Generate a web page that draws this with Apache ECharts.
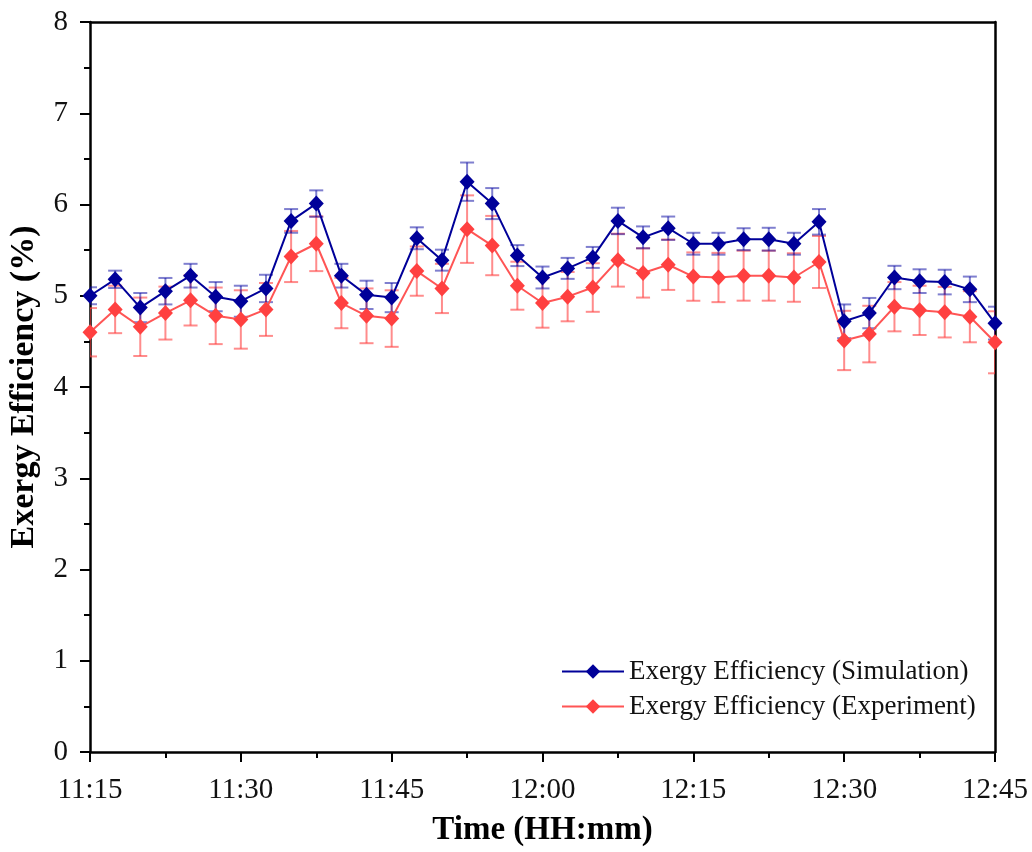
<!DOCTYPE html>
<html>
<head>
<meta charset="utf-8">
<script src="https://cdn.jsdelivr.net/npm/echarts@6/dist/echarts.min.js"></script>
<style>
html,body{margin:0;padding:0;background:#fff}
#chart{width:1032px;height:852px}
</style>
</head>
<body>
<div id="chart"></div>
<script>
// minutes after 11:15
var minutes=[0,2.5,5,7.5,10,12.5,15,17.5,20,22.5,25,27.5,30,32.5,35,37.5,40,42.5,45,47.5,50,52.5,55,57.5,60,62.5,65,67.5,70,72.5,75,77.5,80,82.5,85,87.5,90];
var tickLabels=['11:15','11:30','11:45','12:00','12:15','12:30','12:45'];

var simulation=[5.00,5.18,4.87,5.05,5.22,4.99,4.94,5.08,5.82,6.01,5.22,5.01,4.98,5.63,5.39,6.25,6.01,5.44,5.20,5.30,5.42,5.82,5.64,5.74,5.57,5.57,5.62,5.62,5.57,5.81,4.72,4.81,5.20,5.16,5.15,5.07,4.70];
var simErr=[0.093,0.095,0.16,0.145,0.13,0.16,0.17,0.15,0.13,0.145,0.13,0.155,0.16,0.12,0.115,0.21,0.17,0.115,0.12,0.115,0.115,0.145,0.12,0.128,0.12,0.12,0.12,0.125,0.12,0.14,0.185,0.166,0.128,0.13,0.135,0.14,0.18];

var experiment=[4.60,4.85,4.66,4.81,4.95,4.78,4.74,4.85,5.43,5.57,4.92,4.78,4.75,5.27,5.08,5.73,5.55,5.11,4.92,4.99,5.09,5.39,5.25,5.34,5.21,5.20,5.22,5.22,5.20,5.37,4.51,4.58,4.88,4.84,4.82,4.77,4.49];
var expErr=[0.265,0.26,0.32,0.29,0.276,0.31,0.32,0.29,0.28,0.30,0.276,0.30,0.31,0.27,0.27,0.37,0.325,0.263,0.27,0.27,0.266,0.29,0.27,0.276,0.265,0.27,0.274,0.274,0.266,0.285,0.325,0.31,0.27,0.27,0.277,0.28,0.34];

var blue='#000099';
var red='#ff4040';
var font='Liberation Serif';

function pairs(vals){
    return minutes.map(function(m,i){return [m,vals[i]];});
}

function errorBars(vals,errs,color,z){
    return {
        type:'custom',
        silent:true,
        clip:true,
        z:z,
        data:minutes.map(function(m,i){return [m,vals[i]-errs[i],vals[i]+errs[i]];}),
        encode:{x:0,y:[1,2]},
        renderItem:function(params,api){
            var lo=api.coord([api.value(0),api.value(1)]);
            var hi=api.coord([api.value(0),api.value(2)]);
            var w=7;
            var st={stroke:color,lineWidth:2};
            return {type:'group',children:[
                {type:'line',shape:{x1:hi[0],y1:hi[1],x2:lo[0],y2:lo[1]},style:st},
                {type:'line',shape:{x1:hi[0]-w,y1:hi[1],x2:hi[0]+w,y2:hi[1]},style:st},
                {type:'line',shape:{x1:lo[0]-w,y1:lo[1],x2:lo[0]+w,y2:lo[1]},style:st}
            ]};
        }
    };
}

var myChart=echarts.init(document.getElementById('chart'));
var option={
    backgroundColor:'#fff',
    animation:false,
    grid:{left:90,right:37,top:22,bottom:100,outerBoundsMode:'none',containLabel:false},
    legend:{
        orient:'vertical',
        left:556,
        top:653,
        itemWidth:62,
        itemHeight:18,
        itemGap:8,
        textStyle:{fontFamily:font,fontSize:27,color:'#111'},
        data:['Exergy Efficiency (Simulation)','Exergy Efficiency (Experiment)']
    },
    xAxis:[{
        type:'value',
        min:0,max:90,interval:15,
        name:'Time (HH:mm)',
        nameLocation:'middle',
        nameGap:62,
        nameTextStyle:{fontFamily:font,fontSize:33,fontWeight:'bold',color:'#000'},
        axisLine:{lineStyle:{color:'#000',width:2.5}},
        axisTick:{length:10,lineStyle:{color:'#000',width:2}},
        minorTick:{show:true,splitNumber:2,length:6,lineStyle:{color:'#000',width:2}},
        splitLine:{show:false},
        axisLabel:{margin:24,fontFamily:font,fontSize:29,color:'#111',
            formatter:function(v){return tickLabels[Math.round(v/15)];}}
    },{
        type:'value',position:'top',min:0,max:90,
        axisLine:{show:true,onZero:false,lineStyle:{color:'#000',width:2.5}},
        axisTick:{show:false},axisLabel:{show:false},splitLine:{show:false}
    }],
    yAxis:[{
        type:'value',
        min:0,max:8,interval:1,
        name:'Exergy Efficiency (%)',
        nameLocation:'middle',
        nameGap:49,
        nameTextStyle:{fontFamily:font,fontSize:34,fontWeight:'bold',color:'#000'},
        axisLine:{show:true,lineStyle:{color:'#000',width:2.5}},
        axisTick:{show:true,length:10,lineStyle:{color:'#000',width:2}},
        minorTick:{show:true,splitNumber:2,length:6,lineStyle:{color:'#000',width:2}},
        splitLine:{show:false},
        axisLabel:{margin:22,fontFamily:font,fontSize:29,color:'#111'}
    },{
        type:'value',position:'right',min:0,max:8,
        axisLine:{show:true,onZero:false,lineStyle:{color:'#000',width:2.5}},
        axisTick:{show:false},axisLabel:{show:false},splitLine:{show:false}
    }],
    series:[
        errorBars(experiment,expErr,'rgba(255,64,64,0.6)',2),
        errorBars(simulation,simErr,'rgba(0,0,160,0.5)',3),
        {
            name:'Exergy Efficiency (Experiment)',
            type:'line',
            data:pairs(experiment),
            symbol:'diamond',
            symbolSize:[15,16],
            z:4,
            itemStyle:{color:red},
            lineStyle:{color:'#ff5555',width:2}
        },
        {
            name:'Exergy Efficiency (Simulation)',
            type:'line',
            data:pairs(simulation),
            symbol:'diamond',
            symbolSize:[15,16],
            z:5,
            itemStyle:{color:blue},
            lineStyle:{color:blue,width:2}
        }
    ]
};
myChart.setOption(option);
</script>
</body>
</html>
